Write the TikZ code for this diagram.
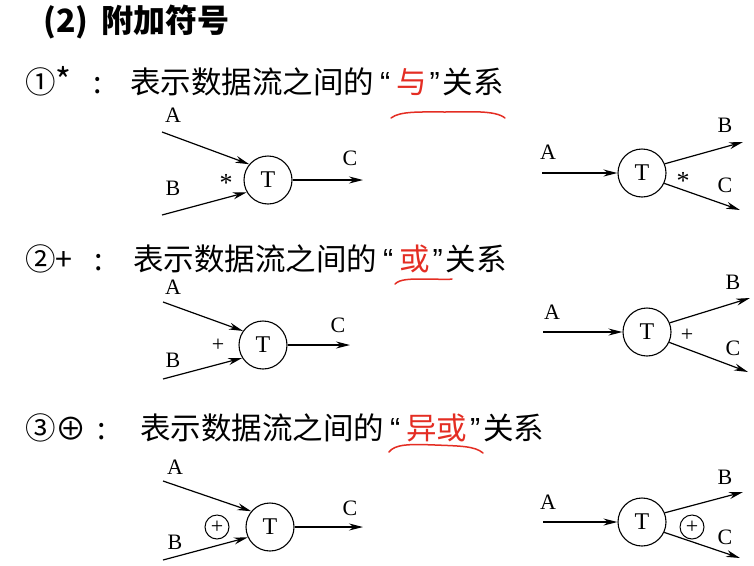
\documentclass[tikz,border=0pt]{standalone}
\usepackage{graphicx}
\usepackage{fontspec}
\setmainfont{Liberation Serif}
\newfontfamily\cjk{Noto Sans CJK SC}
\newfontfamily\qfont{Liberation Sans}
\usetikzlibrary{arrows.meta}
\definecolor{markred}{RGB}{228,45,35}
\newcommand{\qopen}{\makebox[22pt][c]{\qfont “}}
\newcommand{\qclose}{\makebox[16pt][c]{\qfont ”}}

\begin{document}
\begin{tikzpicture}[x=1pt,y=-1pt,
  proc/.style={draw, circle, line width=1.1pt, minimum size=48pt, inner sep=0pt, font=\fontsize{24}{26}\selectfont},
  flow/.style={-{Stealth[length=14pt,width=7pt]}, line width=1.2pt},
  lbl/.style={inner sep=0pt, font=\fontsize{22}{24}\selectfont},
  xorsym/.style={draw, circle, line width=1pt, minimum size=24pt, inner sep=0pt, font=\fontsize{22}{24}\selectfont},
  txt/.style={inner sep=0pt, anchor=base west, font=\cjk\fontsize{30.5}{34}\selectfont}]
  \fill[white] (0,0) rectangle (754,565);
  \useasboundingbox (0,0) rectangle (754,565);

  % Headings
  \node[txt, font=\cjk\bfseries\fontsize{32}{35}\selectfont] (title) at (43,32) {(2)\hspace{13pt}附加符号};
  \node[txt] (m1) at (25,93) {①{\fontsize{34}{36}\selectfont*}};
  \node[txt, anchor=base] (k1) at (98,93) {:};
  \node[txt] (s1) at (130,93) {表示数据流之间的\qopen\textcolor{markred}{与}\qclose 关系};
  \node[txt] (m2) at (25,270) {②+};
  \node[txt, anchor=base] (k2) at (99,270) {:};
  \node[txt] (s2) at (133,270) {表示数据流之间的\qopen\textcolor{markred}{或}\qclose 关系};
  \node[txt] (m3) at (25,439) {③\raisebox{-1pt}{\scalebox{1.3}{\fontsize{24}{26}\selectfont ⊕}}};
  \node[txt, anchor=base] (k3) at (102,439) {:};
  \node[txt] (s3) at (140,439) {表示数据流之间的\qopen\textcolor{markred}{异或}\qclose 关系};

  % Red marks
  \draw[markred, line width=1.5pt, line cap=round] (391,118) .. controls (400,111) and (420,112) .. (445,112) .. controls (470,112) and (495,110) .. (505,118);
  \draw[markred, line width=1.5pt, line cap=round] (395,284) .. controls (400,279) and (410,279) .. (425,279) .. controls (440,279) and (448,280) .. (452,279);
  \draw[markred, line width=1.5pt, line cap=round] (389,452) .. controls (395,444) and (410,444) .. (435,445) .. controls (460,446) and (475,446) .. (483,453);

  % Processes
  \foreach \n/\x/\y in {T1/268/180, T2/642/173, T3/263/345, T4/647/332, T5/270/527, T6/642/522} {
    \node[proc] (\n) at (\x,\y) {T};
  }

  % Flow labels
  \foreach \n/\t/\x/\y in {la1/A/173/115, lb1/B/173/188, lc1/C/350/158,
                           la2/A/548/152, lb2/B/725/125, lc2/C/725/185,
                           la3/A/173/287, lb3/B/173/360, lc3/C/338/325,
                           la4/A/552/312, lb4/B/733/282, lc4/C/733/348,
                           la5/A/175/467, lb5/B/175/542, lc5/C/350/508,
                           la6/A/548/502, lb6/B/725/477, lc6/C/725/537} {
    \node[lbl] (\n) at (\x,\y) {\t};
  }
  \node[lbl, font=\fontsize{26}{28}\selectfont] (and1) at (226,183) {*};
  \node[lbl, font=\fontsize{26}{28}\selectfont] (and2) at (683,181) {*};
  \node[lbl] (or1) at (218,345) {+};
  \node[lbl] (or2) at (687,335) {+};
  \node[xorsym] (xor1) at (217,527) {+};
  \node[xorsym] (xor2) at (692,527) {+};

  % Flow ends
  \coordinate (a1s) at (162,132);
  \coordinate (b1s) at (162,215);
  \coordinate (c1e) at (363,180);
  \coordinate (a2s) at (542,173);
  \coordinate (b2e) at (743,142);
  \coordinate (c2e) at (740,210);
  \coordinate (a3s) at (163,302);
  \coordinate (b3s) at (163,379);
  \coordinate (c3e) at (350,345);
  \coordinate (a4s) at (543,332);
  \coordinate (b4e) at (750,298);
  \coordinate (c4e) at (748,372);
  \coordinate (a5s) at (163,481);
  \coordinate (b5s) at (163,560);
  \coordinate (c5e) at (363,527);
  \coordinate (a6s) at (543,522);
  \coordinate (b6e) at (743,492);
  \coordinate (c6e) at (740,558);

  % Flows
  \draw[flow] (a1s) -- (T1.140);
  \draw[flow] (b1s) -- (T1.210);
  \draw[flow] (T1) -- (c1e);
  \draw[flow] (a2s) -- (T2);
  \draw[flow] (T2.22) -- (b2e);
  \draw[flow] (T2.-25) -- (c2e);
  \draw[flow] (a3s) -- (T3.145);
  \draw[flow] (b3s) -- (T3.212);
  \draw[flow] (T3) -- (c3e);
  \draw[flow] (a4s) -- (T4);
  \draw[flow] (T4.22) -- (b4e);
  \draw[flow] (T4.-25) -- (c4e);
  \draw[flow] (a5s) -- (T5.140);
  \draw[flow] (b5s) -- (T5.205);
  \draw[flow] (T5) -- (c5e);
  \draw[flow] (a6s) -- (T6);
  \draw[flow] (T6.22) -- (b6e);
  \draw[flow] (T6.-25) -- (c6e);
\end{tikzpicture}
\end{document}
